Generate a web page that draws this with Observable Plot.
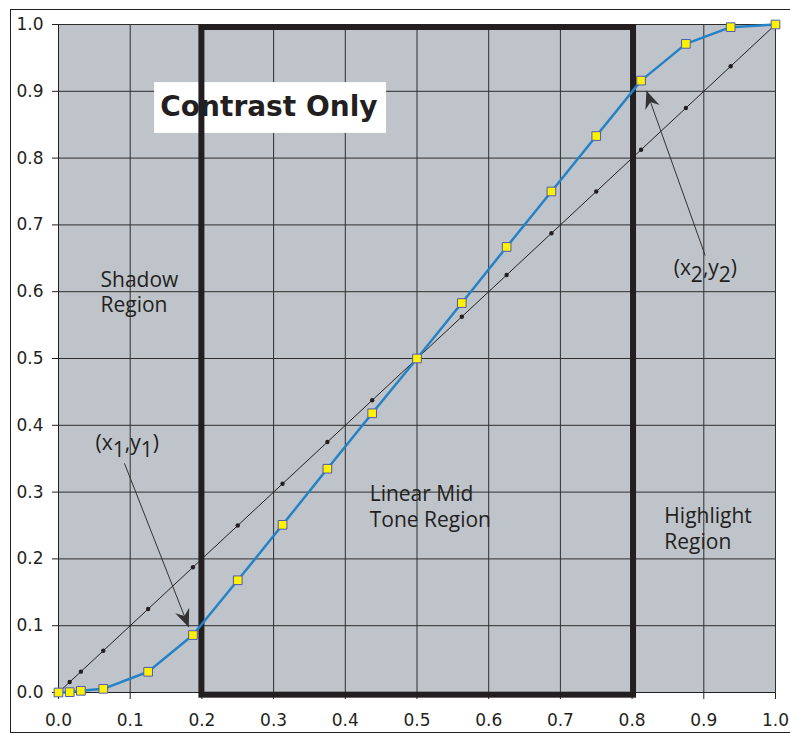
<!DOCTYPE html>
<html><head><meta charset="utf-8">
<script src="https://cdn.jsdelivr.net/npm/d3@7"></script>
<script src="https://cdn.jsdelivr.net/npm/@observablehq/plot@0.6"></script>
<style>
body{margin:0;background:#fff;}
#wrap{position:relative;width:790px;height:734px;overflow:hidden;}
#frame{position:absolute;left:10px;top:9px;width:820px;height:724px;border:1.5px solid #231f20;box-sizing:border-box;}
#chart{position:absolute;left:0;top:0;}
</style></head><body>
<div id="wrap"><div id="frame"></div><div id="chart"></div></div>
<script>
// input levels (x)
const inputs = [0, 0.015625, 0.03125, 0.0625, 0.125, 0.1875, 0.25, 0.3125, 0.375, 0.4375, 0.5, 0.5625, 0.625, 0.6875, 0.75, 0.8125, 0.875, 0.9375, 1.0];
// identity output
const linearOut = [0, 0.015625, 0.03125, 0.0625, 0.125, 0.1875, 0.25, 0.3125, 0.375, 0.4375, 0.5, 0.5625, 0.625, 0.6875, 0.75, 0.8125, 0.875, 0.9375, 1.0];
// contrast curve output
const contrastOut = [0, 0.0005, 0.0025, 0.0055, 0.031, 0.086, 0.168, 0.251, 0.335, 0.418, 0.5, 0.583, 0.667, 0.75, 0.833, 0.916, 0.971, 0.996, 1.0];
const tickValues = [0, 0.1, 0.2, 0.3, 0.4, 0.5, 0.6, 0.7, 0.8, 0.9, 1.0];

const midRegion = [{x1: 0.2, x2: 0.802, y1: -0.004, y2: 0.9955}];
const titleBox = [{x1: 0.134, x2: 0.4575, y1: 0.837, y2: 0.913}];
const titleText = [{x: 0.142, y: 0.876, text: "Contrast Only"}];
const regionLabels = [
  {x: 0.0586, y: 0.635, text: "Shadow\nRegion"},
  {x: 0.434, y: 0.314, text: "Linear Mid\nTone Region"},
  {x: 0.845, y: 0.281, text: "Highlight\nRegion"}
];
const coordLabels = [
  {x: 0.0516, y: 0.385, text: "(x1,y1)"},
  {x: 0.858, y: 0.647, text: "(x2,y2)"}
];
const arrows = [
  {x1: 0.092, y1: 0.343, x2: 0.1817, y2: 0.0977},
  {x1: 0.902, y1: 0.654, x2: 0.820, y2: 0.901}
];

const linearData = inputs.map((x, i) => ({x, y: linearOut[i]}));
const contrastData = inputs.map((x, i) => ({x, y: contrastOut[i]}));

const ink = "#231f20";
const plot = Plot.plot({
  width: 790, height: 734,
  marginLeft: 58, marginRight: 15, marginTop: 24, marginBottom: 42,
  style: {background: "transparent", fontFamily: "DejaVu Sans", fontSize: "17px", color: ink, overflow: "visible"},
  x: {domain: [0, 1], ticks: 10, tickFormat: d3.format(".1f"), tickSize: 7, tickPadding: 14, label: null},
  y: {domain: [0, 1], ticks: 10, tickFormat: d3.format(".1f"), tickSize: 6, tickPadding: 9, label: null},
  marks: [
    Plot.frame({fill: "#bfc4cb", stroke: null}),
    Plot.ruleX(tickValues, {stroke: "#2e2e2e", strokeWidth: 1}),
    Plot.ruleY(tickValues, {stroke: "#2e2e2e", strokeWidth: 1}),
    Plot.rect(titleBox, {x1: "x1", x2: "x2", y1: "y1", y2: "y2", fill: "white"}),
    Plot.rect(midRegion, {x1: "x1", x2: "x2", y1: "y1", y2: "y2", fill: "none", stroke: ink, strokeWidth: 6}),
    Plot.ruleX([0], {stroke: ink}),
    Plot.ruleY([0], {stroke: ink}),
    Plot.line(linearData, {x: "x", y: "y", stroke: ink, strokeWidth: 1}),
    Plot.dot(linearData, {x: "x", y: "y", r: 2.2, fill: ink, stroke: null}),
    Plot.line(contrastData, {x: "x", y: "y", stroke: "#2482c6", strokeWidth: 2.5}),
    Plot.dot(contrastData, {x: "x", y: "y", symbol: "square", r: 4.9, fill: "#fff200", stroke: "#4f5bb0", strokeWidth: 1}),
    Plot.link(arrows, {x1: "x1", y1: "y1", x2: "x2", y2: "y2", stroke: "#333", strokeWidth: 1}),
    Plot.text(titleText, {x: "x", y: "y", text: "text", textAnchor: "start", lineAnchor: "middle", fontFamily: "DejaVu Sans", fontWeight: "bold", fontSize: 28, fill: ink}),
    Plot.text(regionLabels, {x: "x", y: "y", text: "text", textAnchor: "start", lineAnchor: "top", lineHeight: 1.22, fontFamily: "Open Sans", fontSize: 21, fill: ink}),
    Plot.text(coordLabels, {x: "x", y: "y", text: "text", textAnchor: "start", lineAnchor: "top", fontFamily: "Open Sans", fontSize: 21, fill: ink})
  ]
});
document.getElementById("chart").appendChild(plot);

// filled arrowheads
const svg = d3.select(plot);
const defs = svg.append("defs");
defs.append("marker")
  .attr("id", "ahead").attr("viewBox", "-19 -9 21 18")
  .attr("refX", 0).attr("refY", 0)
  .attr("markerWidth", 21).attr("markerHeight", 18)
  .attr("markerUnits", "userSpaceOnUse").attr("orient", "auto")
  .append("path").attr("d", "M0,0 L-18,-7.5 L-12,0 L-18,7.5 Z").attr("fill", "#333");
svg.selectAll('g[aria-label="link"] path, g[aria-label="link"] line').attr("marker-end", "url(#ahead)");

// subscripts
svg.selectAll("text").filter(function() { return /^\(x\d,y\d\)$/.test(this.textContent); }).each(function() {
  const t = d3.select(this);
  const s = this.textContent;
  t.text(null);
  const parts = s.match(/\d+|\D+/g);
  let down = false;
  parts.forEach(p => {
    const isSub = /^\d+$/.test(p);
    const ts = t.append("tspan").text(p);
    if (isSub && !down) { ts.attr("dy", "0.34em"); down = true; }
    else if (!isSub && down) { ts.attr("dy", "-0.34em"); down = false; }
  });
});
</script>
</body></html>
